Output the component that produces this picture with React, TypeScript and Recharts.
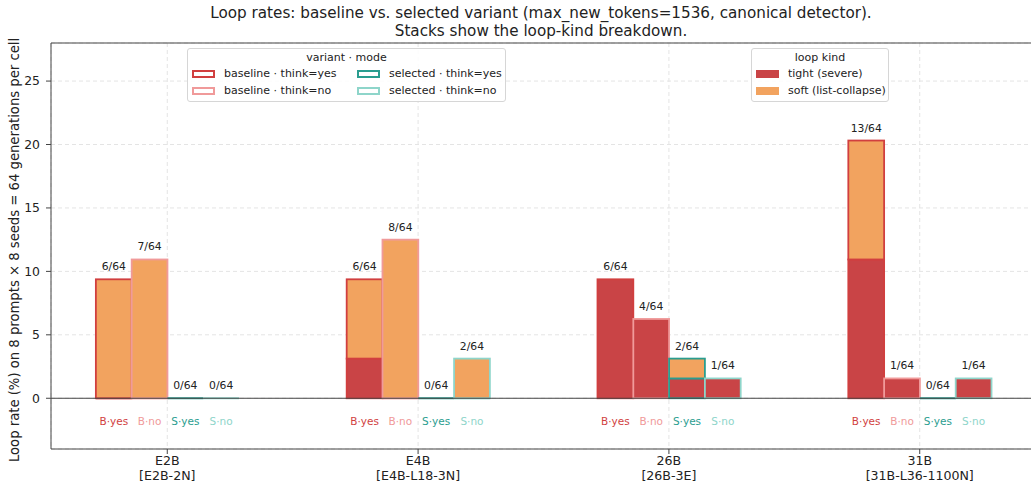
import React from 'react'
import { Bar, BarChart, CartesianGrid, ReferenceLine, XAxis, YAxis } from 'recharts'

// Loop counts per cell (out of 64 generations), split by loop kind.
const groups = ['E2B', 'E4B', '26B', '31B']
const groupTags = ['[E2B-2N]', '[E4B-L18-3N]', '[26B-3E]', '[31B-L36-1100N]']
const generations = 64

const baseYesTight = [0, 2, 6, 7]
const baseYesSoft = [6, 4, 0, 6]
const baseNoTight = [0, 0, 4, 1]
const baseNoSoft = [7, 8, 0, 0]
const selYesTight = [0, 0, 1, 0]
const selYesSoft = [0, 0, 1, 0]
const selNoTight = [0, 0, 1, 1]
const selNoSoft = [0, 2, 0, 0]

const yTicks = [0, 5, 10, 15, 20, 25]

const FONT = '"DejaVu Sans", sans-serif'
const TIGHT = '#c94446'
const SOFT = '#f2a35f'

const variants = [
  { key: 'by', short: 'B·yes', name: 'baseline · think=yes', color: '#d13f3f', tight: baseYesTight, soft: baseYesSoft },
  { key: 'bn', short: 'B·no', name: 'baseline · think=no', color: '#f09a9a', tight: baseNoTight, soft: baseNoSoft },
  { key: 'sy', short: 'S·yes', name: 'selected · think=yes', color: '#2a9d8f', tight: selYesTight, soft: selYesSoft },
  { key: 'sn', short: 'S·no', name: 'selected · think=no', color: '#8ed5ca', tight: selNoTight, soft: selNoSoft },
]

const data = groups.map((g, i) => {
  const row: Record<string, number | string> = { x: i, name: g }
  variants.forEach(v => {
    row[v.key + 'T'] = (v.tight[i] / generations) * 100
    row[v.key + 'S'] = (v.soft[i] / generations) * 100
    row[v.key + 'N'] = v.tight[i] + v.soft[i]
  })
  return row
})

const box = (props: any) => {
  const top = Math.min(props.y, props.y + props.height)
  const h = Math.abs(props.height)
  return { x: props.x, top, w: props.width, h }
}

// a zero-height bar still shows its edge as a flat line, like matplotlib does
const Segment = ({ x, top, w, h, fill, color }: any) =>
  h > 0 ? (
    <rect x={x} y={top} width={w} height={h} fill={fill} stroke={color} strokeWidth={1.8} />
  ) : (
    <line x1={x} x2={x + w} y1={top} y2={top} stroke={color} strokeWidth={1.8} />
  )

const tightShape = (color: string, short: string) => (props: any) => {
  const { x, top, w, h } = box(props)
  return (
    <g>
      <Segment x={x} top={top} w={w} h={h} fill={TIGHT} color={color} />
      <text x={x + w / 2} y={top + h + 27} textAnchor='middle' fontSize={10.5} fontFamily={FONT} fill={color}>
        {short}
      </text>
    </g>
  )
}

const softShape = (color: string, key: string) => (props: any) => {
  const { x, top, w, h } = box(props)
  return (
    <g>
      {h > 0 && <Segment x={x} top={top} w={w} h={h} fill={SOFT} color={color} />}
      <text x={x + w / 2} y={top - 9} textAnchor='middle' fontSize={10.8} fontFamily={FONT} fill='#222'>
        {`${props.payload[key + 'N']}/${generations}`}
      </text>
    </g>
  )
}

const GroupTick = (props: any) => {
  const { x, y, payload } = props
  const i = payload.value
  return (
    <text x={x} y={y} textAnchor='middle' fontSize={12.6} fontFamily={FONT} fill='#222'>
      <tspan x={x} dy={9}>{groups[i]}</tspan>
      <tspan x={x} dy={15}>{groupTags[i]}</tspan>
    </text>
  )
}

const YLabel = () => (
  <text
    x={15}
    y={250}
    transform='rotate(-90 15 250)'
    textAnchor='middle'
    dominantBaseline='middle'
    fontSize={13.2}
    fontFamily={FONT}
    fill='#222'
  >
    Loop rate (%) on 8 prompts × 8 seeds = 64 generations per cell
  </text>
)

const legendBox: React.CSSProperties = {
  position: 'absolute',
  top: 48,
  height: 54,
  border: '1px solid #d6d6d6',
  borderRadius: 3,
  background: 'rgba(255,255,255,0.85)',
  boxSizing: 'border-box',
  fontSize: 11,
  color: '#222',
}

const legendText = (left: number, top: number): React.CSSProperties => ({
  position: 'absolute',
  left,
  top: top - 7,
  lineHeight: '14px',
  whiteSpace: 'nowrap',
})

export default function App() {
  return (
    <div
      style={{
        position: 'absolute',
        left: 0,
        top: 0,
        width: 1031,
        height: 484,
        overflow: 'hidden',
        background: '#fff',
        fontFamily: FONT,
      }}
    >
      <BarChart width={1040} height={484} data={data} margin={{ top: 43, right: 4, bottom: 0, left: 0 }} barGap={0}>
        <CartesianGrid strokeDasharray='4 3' stroke='#e4e4e4' />
        <XAxis
          type='number'
          dataKey='x'
          domain={[-0.4636, 3.4636]}
          ticks={[0, 1, 2, 3]}
          allowDataOverflow
          height={35}
          tick={<GroupTick />}
          tickSize={5}
          stroke='#444'
        />
        <YAxis
          domain={[-4, 28]}
          ticks={yTicks}
          allowDataOverflow
          width={51}
          tickSize={5}
          tickMargin={6}
          stroke='#444'
          tick={{ fontSize: 12.4, fontFamily: FONT, fill: '#222' }}
          label={<YLabel />}
        />
        <ReferenceLine y={28} stroke='#444' strokeWidth={1.2} />
        <ReferenceLine y={0} stroke='#444' strokeWidth={1} />
        {variants.flatMap(v => [
          <Bar
            key={v.key + 'T'}
            dataKey={v.key + 'T'}
            stackId={v.key}
            barSize={35.8}
            isAnimationActive={false}
            shape={tightShape(v.color, v.short)}
          />,
          <Bar
            key={v.key + 'S'}
            dataKey={v.key + 'S'}
            stackId={v.key}
            barSize={35.8}
            isAnimationActive={false}
            shape={softShape(v.color, v.key)}
          />,
        ])}
      </BarChart>

      <div style={{ position: 'absolute', left: 0, top: 4, width: 1082, textAlign: 'center', fontSize: 15.2, lineHeight: '18px', color: '#222' }}>
        Loop rates: baseline vs. selected variant (max_new_tokens=1536, canonical detector).
        <br />
        Stacks show the loop-kind breakdown.
      </div>

      <div style={{ ...legendBox, left: 187, width: 319 }}>
        <div style={{ position: 'absolute', left: 0, width: '100%', top: 2, textAlign: 'center', lineHeight: '14px' }}>
          variant · mode
        </div>
        {variants.map((v, i) => {
          const col = Math.floor(i / 2)
          const row = i % 2
          const px = col === 0 ? 4 : 169
          const cy = row === 0 ? 25 : 42
          return (
            <React.Fragment key={v.key}>
              <div
                style={{
                  position: 'absolute',
                  left: px,
                  top: cy - 4,
                  width: 23,
                  height: 8,
                  border: `2px solid ${v.color}`,
                  boxSizing: 'border-box',
                }}
              />
              <div style={legendText(px + 32, cy)}>{v.name}</div>
            </React.Fragment>
          )
        })}
      </div>

      <div style={{ ...legendBox, left: 751, width: 138 }}>
        <div style={{ position: 'absolute', left: 0, width: '100%', top: 2, textAlign: 'center', lineHeight: '14px' }}>
          loop kind
        </div>
        {[
          { label: 'tight (severe)', fill: TIGHT },
          { label: 'soft (list-collapse)', fill: SOFT },
        ].map((k, i) => {
          const cy = i === 0 ? 25 : 42
          return (
            <React.Fragment key={k.label}>
              <div style={{ position: 'absolute', left: 4, top: cy - 4, width: 23, height: 8, background: k.fill }} />
              <div style={legendText(36, cy)}>{k.label}</div>
            </React.Fragment>
          )
        })}
      </div>
    </div>
  )
}
